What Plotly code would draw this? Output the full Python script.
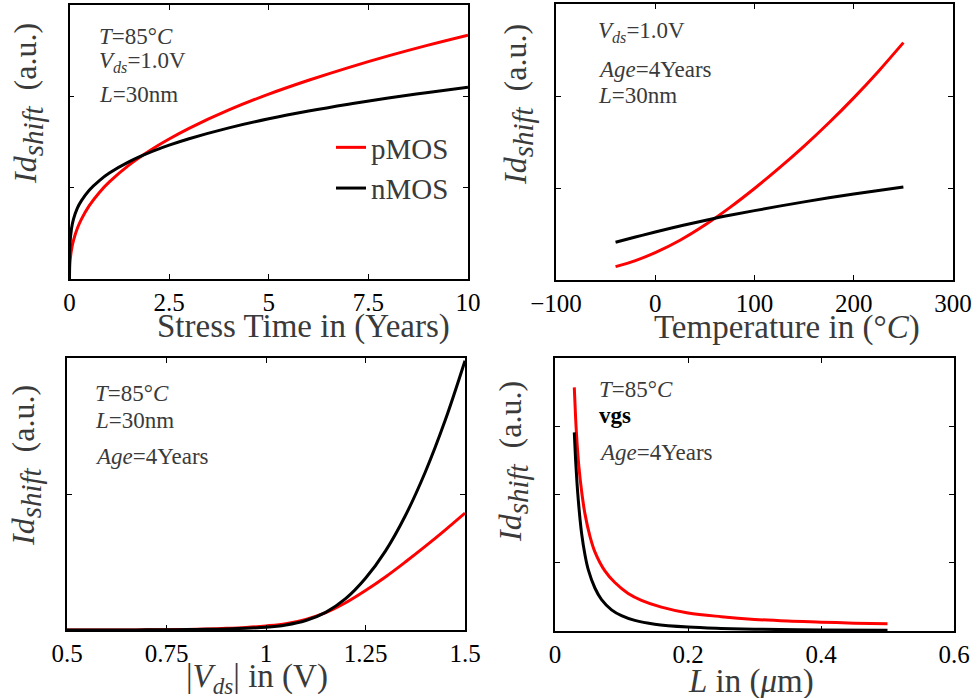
import plotly.graph_objects as go

# ---------------- data ----------------
# Panel 1: Id shift vs stress time
t_years = [0, 0.01, 0.05, 0.1, 0.2, 0.3, 0.5, 0.75, 1, 1.5, 2, 2.5, 3, 4, 5, 6, 7, 8, 9, 10]
p_time = [0, 0.168, 0.321, 0.423, 0.558, 0.656, 0.806, 0.948, 1.063, 1.250, 1.402, 1.533, 1.650,
          1.851, 2.024, 2.176, 2.315, 2.443, 2.561, 2.670]
n_time = [0, 0.370, 0.550, 0.655, 0.778, 0.858, 0.975, 1.078, 1.160, 1.285, 1.383, 1.465, 1.536,
          1.655, 1.754, 1.839, 1.914, 1.982, 2.043, 2.100]

# Panel 2: Id shift vs temperature
temp_c = [-40, -20, 0, 25, 50, 75, 100, 125, 150, 175, 200, 225, 250]
p_temp = [0.145, 0.211, 0.297, 0.432, 0.597, 0.787, 0.995, 1.218, 1.455, 1.709, 1.980, 2.270, 2.580]
n_temp = [0.410, 0.467, 0.522, 0.587, 0.647, 0.703, 0.754, 0.803, 0.849, 0.893, 0.934, 0.973, 1.011]

# Panel 3: Id shift vs |Vds|
vds = [0.5, 0.55, 0.6, 0.65, 0.7, 0.75, 0.8, 0.85, 0.9, 0.95, 1.0, 1.05, 1.1, 1.15, 1.2,
       1.25, 1.3, 1.35, 1.4, 1.45, 1.5]
p_vds = [0, 0, 0.0002, 0.0005, 0.001, 0.002, 0.004, 0.007, 0.012, 0.019, 0.030, 0.046, 0.078,
         0.127, 0.200, 0.290, 0.390, 0.500, 0.615, 0.735, 0.860]
n_vds = [0, 0, 0.0003, 0.0006, 0.001, 0.0018, 0.003, 0.005, 0.008, 0.013, 0.020, 0.037, 0.070,
         0.130, 0.230, 0.380, 0.580, 0.840, 1.160, 1.540, 1.980]

# Panel 4: Id shift vs channel length
len_p = [0.029, 0.031, 0.033, 0.036, 0.04, 0.045, 0.0525, 0.06, 0.075, 0.09, 0.11, 0.13, 0.16,
         0.2, 0.25, 0.3, 0.35, 0.4, 0.45, 0.5]
p_len = [3.57, 3.12, 2.78, 2.40, 2.05, 1.72, 1.39, 1.16, 0.88, 0.71, 0.55, 0.45, 0.35,
         0.265, 0.21, 0.17, 0.145, 0.13, 0.115, 0.105]
len_n = [0.029, 0.031, 0.033, 0.035, 0.0375, 0.04, 0.045, 0.05, 0.06, 0.07, 0.085, 0.1, 0.12,
         0.15, 0.2, 0.25, 0.3, 0.4, 0.5]
n_len = [2.91, 2.50, 2.18, 1.92, 1.65, 1.43, 1.12, 0.90, 0.63, 0.46, 0.31, 0.225, 0.155,
         0.10, 0.058, 0.038, 0.026, 0.015, 0.010]

series_names = ["pMOS", "nMOS"]

x_tickvals = [[0, 2.5, 5, 7.5, 10], [-100, 0, 100, 200, 300], [0.5, 0.75, 1, 1.25, 1.5], [0, 0.2, 0.4, 0.6]]
x_ticktext = [["0", "2.5", "5", "7.5", "10"], ["\u2212100", "0", "100", "200", "300"],
              ["0.5", "0.75", "1", "1.25", "1.5"], ["0", "0.2", "0.4", "0.6"]]
x_ranges = [[0, 10], [-100, 300], [0.5, 1.5], [0, 0.6]]
y_ranges = [[0, 3], [0, 3], [0, 2], [0, 4]]
y_tickvals = [[1, 2], [1, 2], [1], [1, 2, 3]]

x_titles = ["Stress Time in (Years)", "Temperature in (\u00b0<i>C</i>)",
            "|<i>V</i><sub><i>ds</i></sub>| in (V)", "<i>L</i> in (<i>\u03bc</i>m)"]
y_title = ("<i>Id</i><sub><span style='font-size:29px'><i>shift</i></span></sub>"
           "\u00a0\u00a0(a.u.)")

notes = [
    ["<i>T</i>=85\u00b0<i>C</i>", "<i>V</i><sub><i>ds</i></sub>=1.0V", "<i>L</i>=30nm"],
    ["<i>V</i><sub><i>ds</i></sub>=1.0V", "<i>Age</i>=4Years", "<i>L</i>=30nm"],
    ["<i>T</i>=85\u00b0<i>C</i>", "<i>L</i>=30nm", "<i>Age</i>=4Years"],
    ["<i>T</i>=85\u00b0<i>C</i>", "<b>vgs</b>", "<i>Age</i>=4Years"],
]

# ---------------- layout helpers ----------------
W, H = 979, 698
RED, BLACK = "#ff0000", "#000000"
GRAY = "#3a3a3a"
FONT = "Liberation Serif"


def px_x(x):
    return x / W


def px_y(y):
    return (H - y) / H


# panel boxes in pixels: left, right, top, bottom
boxes = [(69.5, 468, 5, 279), (556, 953, 4, 280), (67, 465, 358, 630), (555, 954, 358, 631)]

fig = go.Figure()

panel_data = [
    ((t_years, p_time), (t_years, n_time)),
    ((temp_c, p_temp), (temp_c, n_temp)),
    ((vds, p_vds), (vds, n_vds)),
    ((len_p, p_len), (len_n, n_len)),
]

for i, (pdat, ndat) in enumerate(panel_data):
    ax = "" if i == 0 else str(i + 1)
    for (xs, ys), color, name in ((pdat, RED, series_names[0]), (ndat, BLACK, series_names[1])):
        fig.add_trace(go.Scatter(
            x=xs, y=ys, mode="lines", name=name,
            line=dict(color=color, width=3, shape="spline", smoothing=1.0),
            xaxis="x" + ax, yaxis="y" + ax, showlegend=(i == 0),
        ))

layout = dict(
    width=W, height=H, autosize=False, margin=dict(l=0, r=0, t=0, b=0, autoexpand=False),
    paper_bgcolor="white", plot_bgcolor="white",
    font=dict(family=FONT, color="black", size=24),
    legend=dict(x=px_x(331), y=px_y(122), xanchor="left", yanchor="top",
                bgcolor="rgba(0,0,0,0)", font=dict(size=29, family=FONT, color=GRAY),
                tracegroupgap=0),
)

annotations = []
note_pos = [
    [(97, 36), (97, 62), (97, 95)],
    [(596, 32), (596, 69), (596, 96)],
    [(93, 393), (93, 420), (93, 456)],
    [(597, 389), (597, 415), (597, 453)],
]
ytitle_pos = [(28, 104), (518, 105), (26, 466), (513, 462)]
xtitle_pos = [(303, 327), (787, 328), (257, 678), (751, 681)]

for i, (l, r, t, b) in enumerate(boxes):
    ax = "" if i == 0 else str(i + 1)
    common = dict(showline=True, mirror="ticks", linecolor="black", linewidth=1.5,
                  ticks="inside", ticklen=5, tickcolor="black", tickwidth=1,
                  showgrid=False, zeroline=False, fixedrange=True, automargin=False)
    layout["xaxis" + ax] = dict(domain=[px_x(l), px_x(r)], range=x_ranges[i],
                                tickvals=x_tickvals[i], ticktext=x_ticktext[i],
                                anchor="y" + ax, tickfont=dict(size=25, color="black"), **common)
    layout["yaxis" + ax] = dict(domain=[px_y(b), px_y(t)], range=y_ranges[i],
                                tickvals=y_tickvals[i], showticklabels=False,
                                anchor="x" + ax, **common)
    for txt, (nx, ny) in zip(notes[i], note_pos[i]):
        is_bold = txt.startswith("<b>")
        annotations.append(dict(text=txt, x=px_x(nx), y=px_y(ny), xref="paper", yref="paper",
                                xanchor="left", yanchor="middle", showarrow=False,
                                font=dict(size=23, family=FONT, color="black" if is_bold else GRAY)))
    yx, yy = ytitle_pos[i]
    annotations.append(dict(text=y_title, x=px_x(yx), y=px_y(yy), xref="paper", yref="paper",
                            xanchor="center", yanchor="middle", textangle=-90, showarrow=False,
                            font=dict(size=32, family=FONT, color=GRAY)))
    xx, xy = xtitle_pos[i]
    annotations.append(dict(text=x_titles[i], x=px_x(xx), y=px_y(xy), xref="paper", yref="paper",
                            xanchor="center", yanchor="middle", showarrow=False,
                            font=dict(size=33, family=FONT, color=GRAY)))

layout["annotations"] = annotations
fig.update_layout(**layout)
fig.write_html("out.html", config={"responsive": False, "displayModeBar": False},
               post_script="document.body.style.margin='0';document.body.style.overflow='hidden';")
